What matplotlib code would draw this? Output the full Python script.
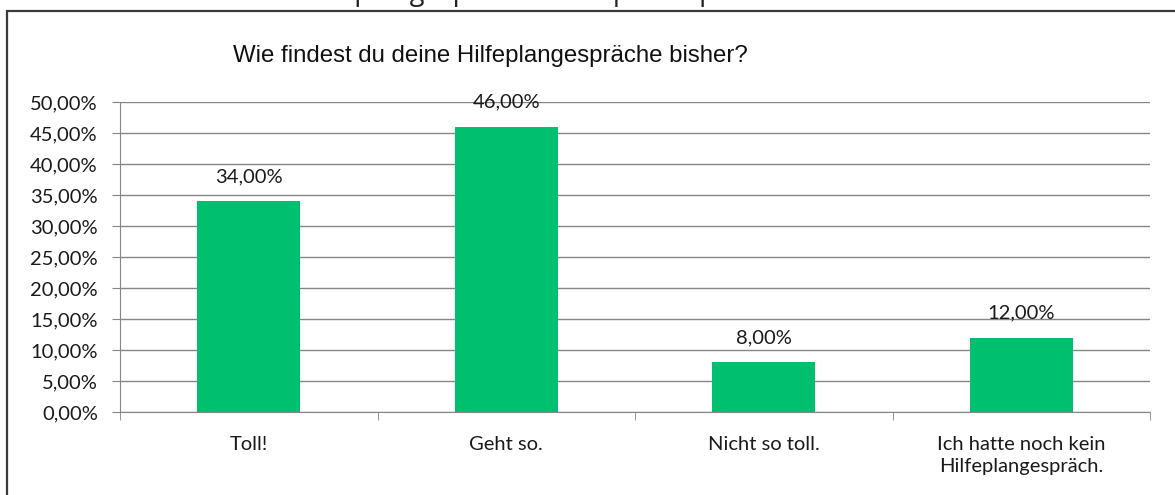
import matplotlib.pyplot as plt
from matplotlib import font_manager
from matplotlib.patches import Rectangle
from matplotlib.ticker import FixedLocator

# Umfrage: Bewertung der Hilfeplangespräche
kategorien = ["Toll!", "Geht so.", "Nicht so toll.", "Ich hatte noch kein\nHilfeplangespräch."]
anteile = [0.34, 0.46, 0.08, 0.12]
y_ticks = [0.0, 0.05, 0.10, 0.15, 0.20, 0.25, 0.30, 0.35, 0.40, 0.45, 0.50]

W, H = 1175, 495
fig = plt.figure(figsize=(W / 100, H / 100), dpi=100)

def prozent(v):
    return f"{v * 100:.2f}%".replace(".", ",")

# schmale Schrift für den Titel, falls vorhanden
namen = {f.name for f in font_manager.fontManager.ttflist}
if "Liberation Sans Narrow" in namen:
    titel_font, titel_size = "Liberation Sans Narrow", 20.5
else:
    titel_font, titel_size = "Liberation Sans", 17.3

# Rahmen des Diagramms (rechts und unten abgeschnitten)
fig.patches.append(Rectangle((7 / W, -0.1), 1.2, 1.1 - 11 / H, transform=fig.transFigure,
                             fill=False, edgecolor="#3a3a3a", linewidth=1.6))
# abgeschnittene Zeile oberhalb
fig.text(296 / W, 1 + 0.5 / H, "Hilfeplangespräche: Kompetenzprozess", fontsize=19.5,
         family="Open Sans", va="baseline", ha="left", color="#222222")

ax = fig.add_axes([120 / W, (H - 412) / H, 1030 / W, 310 / H])
x = range(len(kategorien))
ax.bar(x, anteile, width=0.4, color="#00BF6F", zorder=3)
for xi, v in zip(x, anteile):
    ax.text(xi, v + 0.04, prozent(v), ha="center", va="center",
            fontsize=14.5, family="Lato", color="#1a1a1a", zorder=4)

ax.set_xlim(-0.5, len(kategorien) - 0.5)
ax.set_ylim(0, 0.5)
ax.set_yticks(y_ticks)
ax.set_yticklabels([prozent(t) for t in y_ticks], family="Lato", fontsize=14.5)
ax.set_xticks(list(x))
ax.set_xticklabels(kategorien, family="Lato", fontsize=14.5, linespacing=1.4)
ax.xaxis.set_minor_locator(FixedLocator([i - 0.5 for i in range(len(kategorien) + 1)]))
ax.tick_params(axis="x", which="major", length=0, pad=17, colors="#1a1a1a")
ax.tick_params(axis="x", which="minor", length=6, color="#868686")
ax.tick_params(axis="y", length=6, pad=10, colors="#1a1a1a")
ax.tick_params(axis="y", color="#868686")
ax.grid(axis="y", color="#868686", linewidth=1, zorder=0)
for s in ["top", "right"]:
    ax.spines[s].set_visible(False)
for s in ["left", "bottom"]:
    ax.spines[s].set_color("#868686")

fig.text(490 / W, 1 - 62 / H, "Wie findest du deine Hilfeplangespräche bisher?", fontsize=titel_size,
         family=titel_font, ha="center", va="baseline", color="#111111")

fig.savefig("out.png", dpi=100)
